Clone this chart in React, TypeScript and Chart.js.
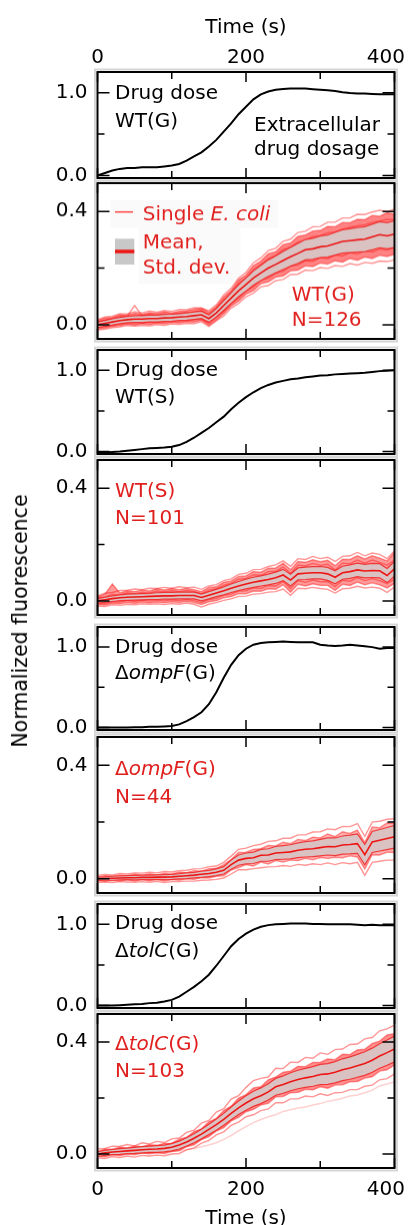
import React, { useEffect, useRef } from "react";
import { Chart, registerables } from "chart.js";

Chart.register(...registerables);

// ---------------- data ----------------
const TIME = [0, 10, 20, 30, 40, 50, 60, 70, 80, 90, 100, 110, 120, 130, 140, 150, 160, 170, 180, 190, 200, 210, 220, 230, 240, 250, 260, 270, 280, 290, 300, 310, 320, 330, 340, 350, 360, 370, 380, 390, 400];

const X_MAJOR = [0, 200, 400];
const X_MINOR = [100, 300];
const X_TICK_LABELS = [0, 200, 400];
const DOSE_MAJOR = [0, 1];
const DOSE_MINOR = [0.5];
const FLUO_MAJOR = [0, 0.4];
const FLUO_MINOR = [0.2];

const DOSE_WT_G = [0.00, 0.03, 0.06, 0.08, 0.09, 0.09, 0.10, 0.10, 0.10, 0.11, 0.12, 0.14, 0.18, 0.23, 0.28, 0.35, 0.43, 0.53, 0.63, 0.74, 0.83, 0.92, 0.98, 1.015, 1.035, 1.045, 1.052, 1.052, 1.05, 1.043, 1.036, 1.03, 1.02, 1.005, 0.995, 0.99, 0.99, 0.985, 0.98, 0.98, 0.98];
const DOSE_WT_S = [-0.01, -0.01, -0.005, 0.0, 0.01, 0.02, 0.03, 0.04, 0.045, 0.05, 0.06, 0.08, 0.12, 0.17, 0.23, 0.29, 0.36, 0.43, 0.52, 0.60, 0.67, 0.73, 0.78, 0.82, 0.85, 0.87, 0.89, 0.90, 0.915, 0.925, 0.935, 0.94, 0.95, 0.955, 0.96, 0.965, 0.97, 0.98, 0.99, 0.995, 1.0];
const DOSE_OMPF_G = [0.0, 0.0, 0.0, 0.0, 0.002, 0.005, 0.005, 0.01, 0.01, 0.015, 0.02, 0.04, 0.08, 0.13, 0.19, 0.29, 0.44, 0.62, 0.78, 0.90, 0.98, 1.03, 1.05, 1.06, 1.065, 1.07, 1.065, 1.06, 1.06, 1.06, 1.03, 1.02, 1.015, 1.02, 1.03, 1.02, 1.01, 1.0, 0.98, 0.99, 0.99];
const DOSE_TOLC_G = [0.0, 0.0, 0.0, 0.005, 0.01, 0.015, 0.02, 0.03, 0.035, 0.05, 0.07, 0.11, 0.17, 0.23, 0.30, 0.38, 0.49, 0.61, 0.73, 0.82, 0.885, 0.935, 0.97, 0.99, 1.0, 1.005, 1.01, 1.01, 1.01, 1.005, 1.005, 1.0, 1.0, 1.0, 1.0, 0.995, 0.99, 0.995, 0.99, 0.99, 0.99];

// WT(G)
const MEAN_WT_G = [0.000, 0.005, 0.010, 0.015, 0.018, 0.020, 0.020, 0.022, 0.022, 0.024, 0.025, 0.027, 0.029, 0.032, 0.035, 0.022, 0.042, 0.068, 0.094, 0.120, 0.142, 0.165, 0.183, 0.200, 0.213, 0.227, 0.240, 0.252, 0.265, 0.268, 0.275, 0.278, 0.286, 0.294, 0.297, 0.300, 0.302, 0.310, 0.318, 0.314, 0.320];
const SD_WT_G = [0.010, 0.010, 0.011, 0.011, 0.011, 0.012, 0.012, 0.012, 0.012, 0.012, 0.012, 0.012, 0.013, 0.013, 0.013, 0.013, 0.015, 0.017, 0.019, 0.021, 0.023, 0.025, 0.027, 0.029, 0.030, 0.032, 0.033, 0.035, 0.036, 0.037, 0.038, 0.039, 0.040, 0.041, 0.042, 0.043, 0.044, 0.045, 0.046, 0.046, 0.047];
const CELLS_WT_G = [
  [0.015, 0.024, 0.026, 0.035, 0.034, 0.041, 0.037, 0.043, 0.040, 0.046, 0.042, 0.048, 0.049, 0.055, 0.058, 0.045, 0.064, 0.098, 0.121, 0.158, 0.176, 0.209, 0.225, 0.251, 0.258, 0.283, 0.289, 0.312, 0.317, 0.331, 0.333, 0.347, 0.346, 0.361, 0.360, 0.372, 0.371, 0.386, 0.383, 0.395, 0.390],
  [0.009, 0.017, 0.021, 0.028, 0.030, 0.068, 0.032, 0.036, 0.034, 0.038, 0.037, 0.041, 0.042, 0.046, 0.050, 0.036, 0.058, 0.087, 0.113, 0.145, 0.164, 0.194, 0.212, 0.233, 0.245, 0.265, 0.274, 0.292, 0.299, 0.311, 0.314, 0.325, 0.328, 0.338, 0.344, 0.349, 0.353, 0.361, 0.366, 0.372, 0.370],
  [0.018, 0.027, 0.030, 0.039, 0.038, 0.046, 0.042, 0.049, 0.044, 0.050, 0.047, 0.054, 0.053, 0.060, 0.059, 0.050, 0.070, 0.105, 0.129, 0.165, 0.185, 0.219, 0.236, 0.262, 0.270, 0.295, 0.302, 0.326, 0.330, 0.346, 0.347, 0.362, 0.362, 0.377, 0.377, 0.390, 0.389, 0.398, 0.404, 0.399, 0.408],
  [-0.010, -0.004, -0.003, 0.004, 0.005, 0.009, 0.006, 0.010, 0.008, 0.012, 0.011, 0.015, 0.014, 0.019, 0.020, 0.006, 0.027, 0.047, 0.075, 0.095, 0.119, 0.135, 0.158, 0.165, 0.183, 0.189, 0.207, 0.211, 0.226, 0.224, 0.237, 0.233, 0.246, 0.243, 0.255, 0.250, 0.261, 0.257, 0.268, 0.264, 0.272],
  [-0.014, -0.012, -0.006, -0.004, 0.002, -0.001, 0.003, 0.001, 0.005, 0.003, 0.008, 0.006, 0.010, 0.009, 0.016, -0.002, 0.017, 0.039, 0.066, 0.083, 0.108, 0.121, 0.145, 0.151, 0.168, 0.172, 0.190, 0.193, 0.208, 0.205, 0.218, 0.214, 0.226, 0.221, 0.234, 0.228, 0.239, 0.234, 0.245, 0.241, 0.249],
  [-0.018, -0.016, -0.010, -0.008, -0.002, -0.005, -0.002, -0.004, 0.000, -0.002, 0.003, 0.001, 0.005, 0.004, 0.011, -0.006, 0.014, 0.031, 0.059, 0.075, 0.099, 0.112, 0.134, 0.139, 0.156, 0.160, 0.177, 0.179, 0.193, 0.191, 0.202, 0.199, 0.209, 0.206, 0.216, 0.211, 0.220, 0.217, 0.225, 0.223, 0.229],
];

// WT(S)
const MEAN_WT_S = [0.000, 0.004, 0.008, 0.011, 0.013, 0.014, 0.015, 0.016, 0.017, 0.018, 0.018, 0.019, 0.019, 0.019, 0.012, 0.020, 0.028, 0.036, 0.045, 0.053, 0.060, 0.066, 0.071, 0.076, 0.082, 0.092, 0.074, 0.096, 0.098, 0.100, 0.100, 0.096, 0.084, 0.100, 0.104, 0.110, 0.106, 0.108, 0.107, 0.090, 0.114];
const SD_WT_S = [0.008, 0.009, 0.010, 0.010, 0.011, 0.011, 0.011, 0.011, 0.012, 0.012, 0.012, 0.012, 0.012, 0.012, 0.012, 0.013, 0.013, 0.014, 0.015, 0.016, 0.017, 0.018, 0.018, 0.019, 0.020, 0.020, 0.021, 0.021, 0.022, 0.022, 0.022, 0.023, 0.023, 0.023, 0.024, 0.024, 0.024, 0.025, 0.025, 0.025, 0.026];
const CELLS_WT_S = [
  [0.012, 0.014, 0.023, 0.022, 0.029, 0.026, 0.031, 0.028, 0.035, 0.032, 0.036, 0.033, 0.037, 0.034, 0.026, 0.039, 0.043, 0.056, 0.063, 0.077, 0.080, 0.092, 0.091, 0.104, 0.105, 0.121, 0.098, 0.127, 0.124, 0.133, 0.126, 0.130, 0.110, 0.134, 0.132, 0.145, 0.134, 0.145, 0.137, 0.127, 0.145],
  [0.014, 0.024, 0.060, 0.028, 0.036, 0.033, 0.039, 0.035, 0.043, 0.039, 0.044, 0.040, 0.045, 0.040, 0.033, 0.048, 0.050, 0.066, 0.071, 0.087, 0.089, 0.104, 0.102, 0.116, 0.117, 0.134, 0.111, 0.140, 0.137, 0.146, 0.139, 0.144, 0.125, 0.148, 0.147, 0.160, 0.149, 0.160, 0.152, 0.142, 0.172],
  [0.018, 0.027, 0.030, 0.037, 0.038, 0.042, 0.040, 0.045, 0.044, 0.048, 0.045, 0.050, 0.047, 0.049, 0.041, 0.053, 0.058, 0.072, 0.078, 0.094, 0.098, 0.111, 0.112, 0.122, 0.128, 0.142, 0.123, 0.150, 0.147, 0.158, 0.150, 0.155, 0.140, 0.158, 0.160, 0.172, 0.160, 0.170, 0.165, 0.150, 0.178],
  [-0.008, -0.010, -0.003, -0.004, 0.001, -0.002, 0.003, 0.000, 0.003, 0.000, 0.004, 0.001, 0.005, 0.001, -0.006, 0.005, 0.009, 0.020, 0.024, 0.035, 0.036, 0.046, 0.045, 0.054, 0.053, 0.069, 0.044, 0.072, 0.066, 0.074, 0.068, 0.069, 0.051, 0.073, 0.070, 0.082, 0.072, 0.079, 0.072, 0.061, 0.077],
  [-0.013, -0.015, -0.009, -0.010, -0.006, -0.009, -0.004, -0.007, -0.004, -0.007, -0.003, -0.006, -0.002, -0.006, -0.013, -0.003, 0.001, 0.011, 0.015, 0.026, 0.025, 0.035, 0.034, 0.043, 0.041, 0.057, 0.031, 0.059, 0.053, 0.061, 0.055, 0.055, 0.037, 0.059, 0.055, 0.067, 0.057, 0.064, 0.057, 0.046, 0.062],
  [-0.018, -0.020, -0.014, -0.016, -0.012, -0.014, -0.010, -0.012, -0.010, -0.013, -0.009, -0.012, -0.008, -0.012, -0.022, -0.012, -0.006, 0.002, 0.007, 0.016, 0.017, 0.024, 0.026, 0.031, 0.033, 0.042, 0.020, 0.045, 0.043, 0.048, 0.044, 0.041, 0.028, 0.043, 0.045, 0.052, 0.046, 0.049, 0.045, 0.030, 0.050],
];

// ΔompF(G)
const MEAN_OMPF_G = [0.000, 0.001, 0.002, 0.003, 0.004, 0.004, 0.005, 0.005, 0.006, 0.006, 0.007, 0.009, 0.011, 0.013, 0.016, 0.019, 0.023, 0.030, 0.050, 0.066, 0.072, 0.074, 0.083, 0.084, 0.091, 0.093, 0.095, 0.101, 0.104, 0.106, 0.110, 0.114, 0.113, 0.119, 0.121, 0.124, 0.085, 0.130, 0.136, 0.142, 0.148];
const SD_OMPF_G = [0.006, 0.006, 0.007, 0.007, 0.007, 0.008, 0.008, 0.008, 0.008, 0.009, 0.009, 0.009, 0.010, 0.010, 0.011, 0.011, 0.012, 0.013, 0.016, 0.018, 0.019, 0.020, 0.021, 0.022, 0.023, 0.024, 0.025, 0.026, 0.027, 0.028, 0.029, 0.030, 0.031, 0.032, 0.033, 0.034, 0.036, 0.037, 0.038, 0.039, 0.040];
const CELLS_OMPF_G = [
  [0.006, 0.011, 0.009, 0.014, 0.011, 0.016, 0.013, 0.018, 0.014, 0.020, 0.017, 0.024, 0.022, 0.029, 0.027, 0.036, 0.037, 0.050, 0.068, 0.093, 0.094, 0.104, 0.106, 0.118, 0.116, 0.129, 0.124, 0.139, 0.135, 0.147, 0.144, 0.158, 0.149, 0.166, 0.160, 0.172, 0.128, 0.183, 0.180, 0.197, 0.196],
  [0.012, 0.015, 0.014, 0.019, 0.017, 0.021, 0.020, 0.023, 0.021, 0.026, 0.024, 0.029, 0.030, 0.035, 0.036, 0.043, 0.045, 0.058, 0.080, 0.104, 0.108, 0.117, 0.122, 0.132, 0.134, 0.143, 0.143, 0.155, 0.155, 0.165, 0.166, 0.176, 0.173, 0.185, 0.184, 0.195, 0.150, 0.200, 0.203, 0.210, 0.212],
  [-0.006, -0.009, -0.005, -0.008, -0.003, -0.008, -0.003, -0.007, -0.002, -0.008, -0.003, -0.005, 0.000, -0.002, 0.004, 0.003, 0.009, 0.011, 0.031, 0.040, 0.050, 0.045, 0.059, 0.052, 0.064, 0.059, 0.066, 0.064, 0.072, 0.067, 0.075, 0.072, 0.076, 0.074, 0.081, 0.077, 0.035, 0.085, 0.084, 0.094, 0.093],
  [-0.012, -0.011, -0.013, -0.010, -0.011, -0.012, -0.010, -0.012, -0.009, -0.013, -0.010, -0.010, -0.008, -0.008, -0.005, -0.004, -0.002, 0.003, 0.017, 0.032, 0.032, 0.036, 0.039, 0.042, 0.043, 0.047, 0.044, 0.051, 0.048, 0.053, 0.050, 0.056, 0.050, 0.057, 0.053, 0.058, 0.012, 0.058, 0.062, 0.066, 0.066],
];

// ΔtolC(G)
const MEAN_TOLC_G = [0.000, 0.004, 0.007, 0.009, 0.011, 0.013, 0.015, 0.017, 0.018, 0.020, 0.024, 0.032, 0.043, 0.056, 0.071, 0.088, 0.105, 0.124, 0.145, 0.165, 0.182, 0.197, 0.208, 0.222, 0.240, 0.248, 0.258, 0.266, 0.272, 0.277, 0.284, 0.286, 0.292, 0.301, 0.307, 0.315, 0.323, 0.335, 0.350, 0.362, 0.375];
const SD_TOLC_G = [0.008, 0.009, 0.009, 0.010, 0.010, 0.011, 0.011, 0.011, 0.012, 0.012, 0.013, 0.014, 0.015, 0.016, 0.017, 0.018, 0.020, 0.021, 0.023, 0.024, 0.026, 0.027, 0.028, 0.029, 0.030, 0.031, 0.032, 0.033, 0.034, 0.035, 0.036, 0.037, 0.038, 0.039, 0.040, 0.041, 0.042, 0.043, 0.044, 0.045, 0.046];
const CELLS_TOLC_G = [
  [0.008, 0.018, 0.017, 0.024, 0.022, 0.029, 0.026, 0.033, 0.031, 0.038, 0.039, 0.053, 0.060, 0.080, 0.090, 0.115, 0.127, 0.155, 0.171, 0.200, 0.212, 0.236, 0.240, 0.265, 0.275, 0.292, 0.296, 0.313, 0.312, 0.327, 0.327, 0.339, 0.337, 0.356, 0.355, 0.372, 0.374, 0.395, 0.403, 0.425, 0.430],
  [0.018, 0.020, 0.028, 0.027, 0.034, 0.029, 0.040, 0.036, 0.045, 0.041, 0.054, 0.057, 0.077, 0.085, 0.110, 0.120, 0.150, 0.162, 0.196, 0.208, 0.238, 0.262, 0.270, 0.275, 0.306, 0.305, 0.328, 0.327, 0.345, 0.342, 0.361, 0.356, 0.373, 0.375, 0.391, 0.393, 0.411, 0.416, 0.440, 0.447, 0.460],
  [-0.008, -0.010, -0.003, -0.006, 0.000, -0.003, 0.003, 0.001, 0.004, 0.002, 0.009, 0.012, 0.026, 0.033, 0.051, 0.062, 0.082, 0.094, 0.118, 0.131, 0.151, 0.159, 0.175, 0.181, 0.204, 0.205, 0.219, 0.220, 0.231, 0.229, 0.240, 0.235, 0.246, 0.247, 0.258, 0.259, 0.271, 0.276, 0.296, 0.301, 0.318],
  [-0.014, -0.016, -0.009, -0.013, -0.007, -0.011, -0.005, -0.007, -0.004, -0.006, 0.000, 0.002, 0.015, 0.022, 0.039, 0.049, 0.068, 0.079, 0.102, 0.114, 0.133, 0.140, 0.155, 0.161, 0.183, 0.183, 0.197, 0.197, 0.207, 0.204, 0.215, 0.209, 0.219, 0.220, 0.230, 0.230, 0.242, 0.246, 0.265, 0.269, 0.286],
];
const OUTLIER_TOLC_G = [-0.004, -0.002, 0.000, 0.002, 0.004, 0.003, 0.006, 0.005, 0.008, 0.007, 0.010, 0.012, 0.016, 0.020, 0.026, 0.032, 0.040, 0.052, 0.066, 0.083, 0.098, 0.112, 0.123, 0.133, 0.140, 0.152, 0.158, 0.164, 0.168, 0.175, 0.180, 0.188, 0.193, 0.199, 0.207, 0.211, 0.219, 0.228, 0.243, 0.250, 0.257];

// ---------------- styling ----------------
const FONT = "'DejaVu Sans', Verdana, sans-serif";
const RED_TEXT = "#e0201e";
const TRACE_COLOR = "rgba(255,20,20,0.45)";
const FAINT_COLOR = "rgba(255,40,40,0.22)";
const BAND_COLOR = "rgb(218,194,194)";
const EDGE_COLOR = "rgba(240,25,25,0.8)";
const MEAN_COLOR = "#ee1515";

type Seg = { t: string; i?: boolean };
type Label = { x: number; dy: number; segs: Seg[]; color: string };
interface PanelCfg {
  kind: "dose" | "fluo";
  top: number;
  bottom: number;
  padTop: number;
  padBottom: number;
  dose?: number[];
  mean?: number[];
  sd?: number[];
  cells?: number[][];
  envelope?: [number, number];
  cloudAlpha?: number;
  faint?: number[][];
  labels: Label[];
  topAxis?: boolean;
  bottomAxis?: boolean;
  legend?: boolean;
}

const blk = (x: number, dy: number, t: string): Label => ({ x, dy, segs: [{ t }], color: "#000" });
const red = (x: number, dy: number, segs: Seg[]): Label => ({ x, dy, segs, color: RED_TEXT });

const PANELS: PanelCfg[] = [
  {
    kind: "dose", top: 72, bottom: 178, padTop: 72, padBottom: 14, dose: DOSE_WT_G, topAxis: true,
    labels: [blk(115, 27.3, "Drug dose"), blk(115, 55, "WT(G)"), blk(254, 58.7, "Extracellular"), blk(254, 83, "drug dosage")],
  },
  {
    kind: "fluo", top: 183, bottom: 338.5, padTop: 14, padBottom: 14, mean: MEAN_WT_G, sd: SD_WT_G, cells: CELLS_WT_G, envelope: [0, 4], cloudAlpha: 0.55, legend: true,
    labels: [
      red(142.7, 36.7, [{ t: "Single " }, { t: "E. coli", i: true }]),
      red(142.7, 65, [{ t: "Mean," }]),
      red(142.7, 90, [{ t: "Std. dev." }]),
      red(291.7, 116.7, [{ t: "WT(G)" }]),
      red(291.7, 142, [{ t: "N=126" }]),
    ],
  },
  {
    kind: "dose", top: 350, bottom: 454, padTop: 14, padBottom: 14, dose: DOSE_WT_S,
    labels: [blk(115, 26.3, "Drug dose"), blk(115, 53, "WT(S)")],
  },
  {
    kind: "fluo", top: 459.5, bottom: 615, padTop: 14, padBottom: 14, mean: MEAN_WT_S, sd: SD_WT_S, cells: CELLS_WT_S, envelope: [1, 4], cloudAlpha: 0.45,
    labels: [red(115, 37, [{ t: "WT(S)" }]), red(115, 63.5, [{ t: "N=101" }])],
  },
  {
    kind: "dose", top: 626.5, bottom: 729.5, padTop: 14, padBottom: 14, dose: DOSE_OMPF_G,
    labels: [blk(115, 25.5, "Drug dose"), { x: 115, dy: 52, segs: [{ t: "Δ" }, { t: "ompF", i: true }, { t: "(G)" }], color: "#000" }],
  },
  {
    kind: "fluo", top: 736.5, bottom: 893, padTop: 14, padBottom: 14, mean: MEAN_OMPF_G, sd: SD_OMPF_G, cells: CELLS_OMPF_G, envelope: [0, 2], cloudAlpha: 0.35,
    labels: [red(115, 38, [{ t: "Δ" }, { t: "ompF", i: true }, { t: "(G)" }]), red(115, 65.5, [{ t: "N=44" }])],
  },
  {
    kind: "dose", top: 903.5, bottom: 1007.5, padTop: 14, padBottom: 14, dose: DOSE_TOLC_G,
    labels: [blk(115, 24.5, "Drug dose"), { x: 115, dy: 52.8, segs: [{ t: "Δ" }, { t: "tolC", i: true }, { t: "(G)" }], color: "#000" }],
  },
  {
    kind: "fluo", top: 1013.5, bottom: 1168, padTop: 14, padBottom: 57, mean: MEAN_TOLC_G, sd: SD_TOLC_G, cells: CELLS_TOLC_G, envelope: [0, 2], cloudAlpha: 0.5, faint: [OUTLIER_TOLC_G], bottomAxis: true,
    labels: [red(115, 36, [{ t: "Δ" }, { t: "tolC", i: true }, { t: "(G)" }]), red(115, 63, [{ t: "N=103" }])],
  },
];

const pts = (arr: number[]) => arr.map((v, i) => ({ x: TIME[i], y: v }));

function drawSegs(ctx: CanvasRenderingContext2D, x: number, y: number, segs: Seg[], color: string) {
  let cx = x;
  ctx.fillStyle = color;
  ctx.textAlign = "left";
  ctx.textBaseline = "alphabetic";
  for (const s of segs) {
    ctx.font = `${s.i ? "italic " : ""}20px ${FONT}`;
    ctx.fillText(s.t, cx, y);
    cx += ctx.measureText(s.t).width;
  }
}

function makePlugin(cfg: PanelCfg) {
  return {
    id: "panelDecor",
    afterDraw(chart: any) {
      const ctx: CanvasRenderingContext2D = chart.ctx;
      const { left, right, top, bottom } = chart.chartArea;
      const xs = chart.scales.x;
      const ys = chart.scales.y;
      const isDose = cfg.kind === "dose";
      ctx.save();

      // light halo around the panel
      ctx.strokeStyle = "#d6d6d6";
      ctx.lineWidth = 2;
      ctx.strokeRect(left - 2.5, top - 2.5, right - left + 5, bottom - top + 5);

      // legend
      if (cfg.legend) {
        ctx.fillStyle = "rgba(0,0,0,0.02)";
        ctx.fillRect(left + 13, top + 17, 168, 28);
        ctx.fillRect(left + 41, top + 45, 102, 55);
        ctx.strokeStyle = "rgba(255,40,40,0.85)";
        ctx.lineWidth = 1.5;
        ctx.beginPath();
        ctx.moveTo(115, top + 28.7);
        ctx.lineTo(133, top + 28.7);
        ctx.stroke();
        ctx.fillStyle = "#c8c8c8";
        ctx.fillRect(115, top + 55.3, 19.3, 25.7);
        ctx.strokeStyle = "#ee1515";
        ctx.lineWidth = 3.5;
        ctx.beginPath();
        ctx.moveTo(115, top + 68);
        ctx.lineTo(134.3, top + 68);
        ctx.stroke();
      }

      // frame
      ctx.strokeStyle = "#000";
      ctx.lineWidth = 2;
      ctx.strokeRect(left, top, right - left, bottom - top);

      // inward ticks
      ctx.lineWidth = 1.5;
      ctx.beginPath();
      const xt = (v: number, len: number) => {
        const px = xs.getPixelForValue(v);
        ctx.moveTo(px, top);
        ctx.lineTo(px, top + len);
        ctx.moveTo(px, bottom);
        ctx.lineTo(px, bottom - len);
      };
      X_MAJOR.forEach((v) => xt(v, 10));
      X_MINOR.forEach((v) => xt(v, 7));
      const yt = (v: number, len: number) => {
        const py = ys.getPixelForValue(v);
        ctx.moveTo(left, py);
        ctx.lineTo(left + len, py);
        ctx.moveTo(right, py);
        ctx.lineTo(right - len, py);
      };
      (isDose ? DOSE_MAJOR : FLUO_MAJOR).forEach((v) => yt(v, 12));
      (isDose ? DOSE_MINOR : FLUO_MINOR).forEach((v) => yt(v, 7));
      ctx.stroke();

      // panel labels
      for (const l of cfg.labels) drawSegs(ctx, l.x, top + l.dy, l.segs, l.color);

      // time axes
      const axisText = (labelY: number, titleY: number) => {
        ctx.font = `20px ${FONT}`;
        ctx.fillStyle = "#000";
        ctx.textBaseline = "alphabetic";
        ctx.textAlign = "center";
        for (const v of X_TICK_LABELS) {
          const s = String(v);
          const w = ctx.measureText(s).width;
          let px = xs.getPixelForValue(v);
          px = Math.min(px, 405 - w / 2);
          ctx.fillText(s, px, labelY);
        }
        ctx.fillText("Time (s)", (left + right) / 2, titleY);
      };
      if (cfg.topAxis) axisText(top - 8.7, top - 39);
      if (cfg.bottomAxis) axisText(bottom + 27, bottom + 55.5);

      ctx.restore();
    },
  };
}

function Panel({ cfg }: { cfg: PanelCfg }) {
  const ref = useRef<HTMLCanvasElement>(null);
  const canvasTop = cfg.top - cfg.padTop;
  const h = cfg.bottom + cfg.padBottom - canvasTop;

  useEffect(() => {
    const canvas = ref.current;
    if (!canvas) return;
    const isDose = cfg.kind === "dose";
    const datasets: any[] = [];
    if (isDose) {
      datasets.push({ data: pts(cfg.dose!), borderColor: "#000", borderWidth: 2, pointRadius: 0, fill: false, order: 1 });
    } else {
      const mean = cfg.mean!;
      const sd = cfg.sd!;
      const upper = mean.map((m, i) => m + sd[i]);
      const lower = mean.map((m, i) => m - sd[i]);
      (cfg.faint || []).forEach((c) =>
        datasets.push({ data: pts(c), borderColor: FAINT_COLOR, borderWidth: 1.5, pointRadius: 0, fill: false, order: 12 })
      );
      const base = datasets.length;
      const env = cfg.envelope;
      cfg.cells!.forEach((c, k) => {
        const isEnvTop = env && k === env[0];
        datasets.push({
          data: pts(c),
          borderColor: TRACE_COLOR,
          borderWidth: 1.4,
          pointRadius: 0,
          fill: isEnvTop ? base + env![1] : false,
          backgroundColor: `rgba(255,30,30,${cfg.cloudAlpha ?? 0.45})`,
          order: isEnvTop ? 11 : 10,
        });
      });
      const upIdx = datasets.length;
      datasets.push({ data: pts(upper), borderColor: EDGE_COLOR, borderWidth: 1.2, pointRadius: 0, fill: upIdx + 1, backgroundColor: BAND_COLOR, order: 6 });
      datasets.push({ data: pts(lower), borderColor: EDGE_COLOR, borderWidth: 1.2, pointRadius: 0, fill: false, order: 5 });
      datasets.push({ data: pts(mean), borderColor: MEAN_COLOR, borderWidth: 1.6, pointRadius: 0, fill: false, order: 1 });
    }
    const major = isDose ? DOSE_MAJOR : FLUO_MAJOR;
    const chart = new Chart(canvas, {
      type: "line",
      data: { datasets },
      options: {
        animation: false,
        responsive: false,
        maintainAspectRatio: false,
        events: [],
        layout: { padding: { top: cfg.padTop, bottom: cfg.padBottom, left: 0, right: 14.5 } },
        plugins: { legend: { display: false }, tooltip: { enabled: false }, title: { display: false } },
        scales: {
          x: { type: "linear", min: 0, max: 400, display: false },
          y: {
            type: "linear",
            min: isDose ? -0.03 : -0.05,
            max: isDose ? 1.25 : 0.5,
            grid: { display: false, drawTicks: false, tickLength: 0 },
            border: { display: false },
            ticks: {
              color: "#000",
              font: { family: FONT, size: 20 },
              padding: 10,
              callback: (v: any) => Number(v).toFixed(1),
            },
            afterBuildTicks: (s: any) => {
              s.ticks = major.map((v) => ({ value: v }));
            },
            afterFit: (s: any) => {
              s.width = 97.5;
              s.paddingTop = 0;
              s.paddingBottom = 0;
            },
          },
        },
      } as any,
      plugins: [makePlugin(cfg)],
    });
    return () => chart.destroy();
  }, []);

  return (
    <canvas
      ref={ref}
      width={409}
      height={h}
      style={{ position: "absolute", left: 0, top: canvasTop, width: 409, height: h }}
    />
  );
}

export default function App() {
  return (
    <div style={{ position: "absolute", left: 0, top: 0, width: 409, height: 1225, background: "#fff", overflow: "hidden" }}>
      {PANELS.map((p, i) => (
        <Panel key={i} cfg={p} />
      ))}
      <div
        style={{
          position: "absolute",
          left: 20,
          top: 620.5,
          transform: "translate(-50%, -50%) rotate(-90deg)",
          font: `20.5px ${FONT}`,
          whiteSpace: "nowrap",
          color: "#000",
        }}
      >
        Normalized fluorescence
      </div>
    </div>
  );
}
